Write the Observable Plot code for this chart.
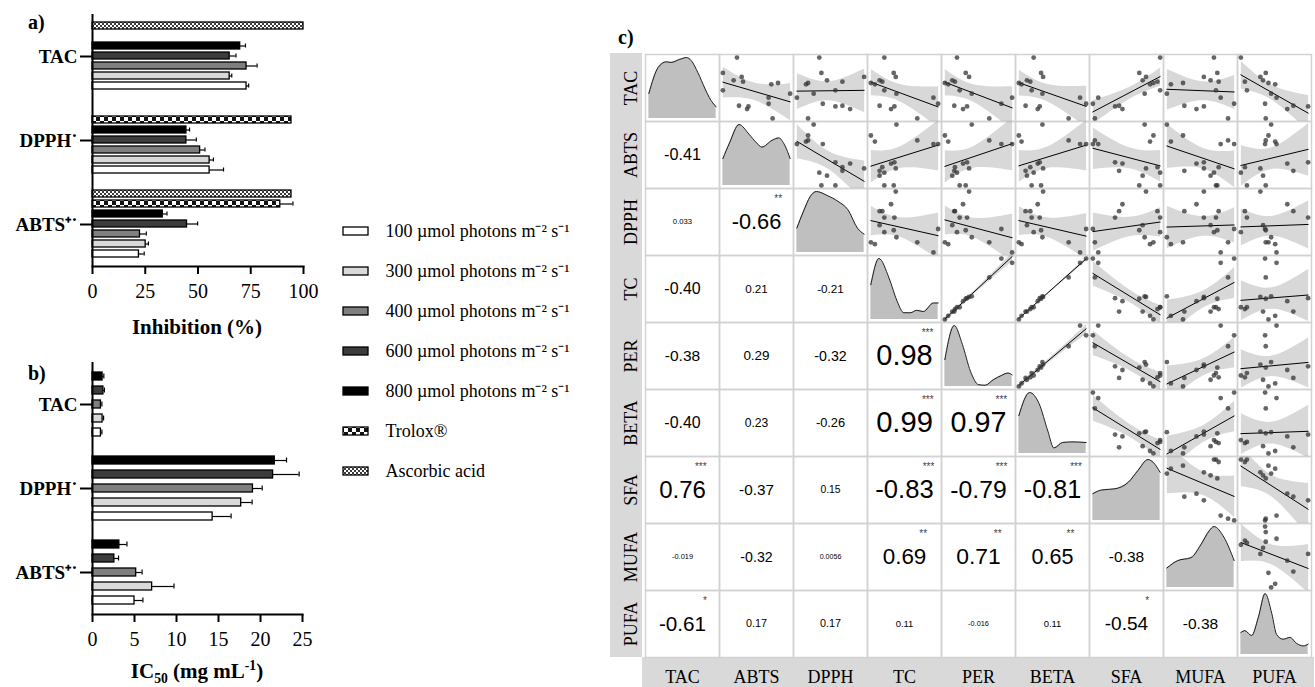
<!DOCTYPE html>
<html><head><meta charset="utf-8">
<script src="https://cdn.jsdelivr.net/npm/d3@7"></script>
<script src="https://cdn.jsdelivr.net/npm/@observablehq/plot@0.6"></script>
<style>
body{margin:0;background:#fff;width:1315px;height:687px;position:relative;overflow:hidden;font-family:"Liberation Serif","Times New Roman",serif;color:#000;}
.abs{position:absolute;}
.lab{font-weight:bold;font-size:20px;line-height:24px;}
.axl{font-weight:bold;font-size:21px;line-height:24px;text-align:center;width:300px;left:47px;}
.axl sub,.axl sup{font-size:0.65em;line-height:0;}
</style></head><body>
<svg width="0" height="0" style="position:absolute">
<defs>
<pattern id="ascorbic" width="4" height="4" patternUnits="userSpaceOnUse"><rect width="4" height="4" fill="#fff"/><rect width="2" height="2" fill="#3a3a3a"/><rect x="2" y="2" width="2" height="2" fill="#3a3a3a"/></pattern>
<pattern id="trolox" width="8" height="8" patternUnits="userSpaceOnUse"><rect width="8" height="8" fill="#fff"/><rect width="4" height="4" fill="#111"/><rect x="4" y="4" width="4" height="4" fill="#111"/></pattern>
</defs></svg>
<div class="abs lab" style="left:28px;top:10px">a)</div>
<div class="abs lab" style="left:28px;top:361px">b)</div>
<div class="abs lab" style="left:618px;top:25px">c)</div>
<div class="abs axl" style="top:315px">Inhibition (%)</div>
<div class="abs axl" style="top:659px">IC<sub>50</sub> (mg mL<sup>-1</sup>)</div>
<div id="pa" class="abs" style="left:0;top:0"></div>
<div id="pb" class="abs" style="left:0;top:340px"></div>
<div id="leg" class="abs" style="left:320px;top:200px"></div>
<div id="pc" class="abs" style="left:580px;top:0"></div>
<script>
const serif = "'Liberation Serif','Times New Roman',serif";
const sans = "'Liberation Sans',Arial,sans-serif";

// ---------- Panels a & b data ----------
const assays = ["TAC", "DPPH", "ABTS"];
const assayLabels = ["TAC", "DPPH\u02D9", "ABTS\u207A\u02D9"];
const fillKeys = ["100", "300", "400", "600", "800", "Trolox", "Ascorbic"];
const fillColors = ["#ffffff", "#d9d9d9", "#7f7f7f", "#3c3c3c", "#000000", "url(#trolox)", "url(#ascorbic)"];
const legendLabels = ["100 µmol photons m\u207B\u00B2 s\u207B\u00B9", "300 µmol photons m\u207B\u00B2 s\u207B\u00B9",
  "400 µmol photons m\u207B\u00B2 s\u207B\u00B9", "600 µmol photons m\u207B\u00B2 s\u207B\u00B9",
  "800 µmol photons m\u207B\u00B2 s\u207B\u00B9", "Trolox\u00AE", "Ascorbic acid"];

// Inhibition (%) : order Ascorbic, Trolox, 800, 600, 400, 300, 100
const inhibKeys = ["Ascorbic", "Trolox", "800", "600", "400", "300", "100"];
const inhibTAC = [100, null, 70, 65, 73, 65, 73];
const inhibTACsd = [0, null, 2.5, 3, 5, 1, 1];
const inhibDPPH = [null, 94.3, 44.5, 44.5, 51, 55.5, 55.5];
const inhibDPPHsd = [null, 0, 1.5, 4.7, 2.3, 1.8, 6.6];
const inhibABTS = [94.3, 89, 33.3, 44.8, 22.5, 25.2, 22];
const inhibABTSsd = [0, 6, 2, 5, 3, 1.3, 2.5];

// IC50 (mg/mL) : order 800, 600, 400, 300, 100
const icKeys = ["800", "600", "400", "300", "100"];
const icTAC = [1.2, 1.3, 1.0, 1.2, 1.0];
const icTACsd = [0.15, 0.12, 0.12, 0.12, 0.12];
const icDPPH = [21.7, 21.5, 19.1, 17.7, 14.3];
const icDPPHsd = [1.4, 3.1, 1.1, 1.3, 2.2];
const icABTS = [3.2, 2.6, 5.2, 7.1, 5.0];
const icABTSsd = [0.9, 0.5, 0.7, 2.6, 1.0];

function rows(keys, series) {
  const out = [];
  series.forEach(([assay, vals, sds]) => keys.forEach((k, i) => {
    if (vals[i] != null) out.push({assay, key: k, v: vals[i], sd: sds[i], hi: vals[i] + sds[i]});
  }));
  return out;
}
const rowsA = rows(inhibKeys, [["TAC", inhibTAC, inhibTACsd], ["DPPH", inhibDPPH, inhibDPPHsd], ["ABTS", inhibABTS, inhibABTSsd]]);
const rowsB = rows(icKeys, [["TAC", icTAC, icTACsd], ["DPPH", icDPPH, icDPPHsd], ["ABTS", icABTS, icABTSsd]]);

function barPanel(data, keys, xdom, ticks, opts) {
  const err = data.filter(d => d.sd > 0);
  return Plot.plot({
    width: 320, height: opts.height,
    marginLeft: 92, marginRight: opts.marginRight, marginTop: opts.marginTop, marginBottom: opts.marginBottom,
    style: {fontFamily: serif, background: "transparent", overflow: "visible"},
    x: {domain: xdom},
    y: {domain: keys, paddingInner: opts.pi, paddingOuter: opts.po, axis: null},
    fy: {domain: assays, padding: 0},
    color: {type: "ordinal", domain: fillKeys, range: fillColors},
    marks: [
      Plot.barX(data, {fy: "assay", y: "key", x: "v", fill: "key", stroke: "black", strokeWidth: 1.3}),
      Plot.ruleY(err, {fy: "assay", y: "key", x1: "v", x2: "hi", stroke: "black", strokeWidth: 1.2}),
      Plot.tickX(err, {fy: "assay", y: "key", x: "hi", stroke: "black", strokeWidth: 1.2, insetTop: 1.5, insetBottom: 1.5}),
      Plot.ruleX([0], {stroke: "black", strokeWidth: 2}),
      Plot.frame({anchor: "bottom", facetAnchor: "bottom", stroke: "black", strokeWidth: 2}),
      Plot.axisX({ticks, tickSize: 8, strokeWidth: 2, tickPadding: 9, fontSize: 20, label: null}),
      Plot.axisFy({anchor: "left", tickSize: 12, strokeWidth: 2, tickPadding: 3, fontSize: 19, fontWeight: "bold",
        tickFormat: d => assayLabels[assays.indexOf(d)], label: null})
    ]
  });
}
document.getElementById("pa").append(barPanel(rowsA, inhibKeys, [0, 100], [0, 25, 50, 75, 100],
  {height: 340, marginRight: 17, marginTop: 13, marginBottom: 74, pi: 0.27, po: 0.5}));
document.getElementById("pb").append(barPanel(rowsB, icKeys, [0, 25], [0, 5, 10, 15, 20, 25],
  {height: 347, marginRight: 18, marginTop: 22, marginBottom: 73, pi: 0.43, po: 0.56}));

// ---------- Legend ----------
const legendRows = fillKeys.map((k, i) => ({key: k, label: legendLabels[i]}));
document.getElementById("leg").append(Plot.plot({
  width: 280, height: 290, marginLeft: 23, marginRight: 232, marginTop: 24, marginBottom: 12,
  style: {fontFamily: serif, background: "transparent", overflow: "visible"},
  x: {domain: [0, 1], axis: null},
  y: {domain: fillKeys, paddingInner: 0.8, paddingOuter: 0, axis: null},
  color: {type: "ordinal", domain: fillKeys, range: fillColors},
  marks: [
    Plot.barX(legendRows, {y: "key", x1: 0, x2: 1, fill: "key", stroke: "black", strokeWidth: 1.3}),
    Plot.text(legendRows, {y: "key", x: 1, dx: 17, text: "label", textAnchor: "start", fontSize: 18, fill: "black"})
  ]
}));

// ---------- Panel c data (relative values, 15 samples) ----------
const vars = ["TAC", "ABTS", "DPPH", "TC", "PER", "BETA", "SFA", "MUFA", "PUFA"];
const obsTAC  = [100, 62, 60, 66, 64, 77, 71, 51, 46, 28, 23, 27,  9, 40, 31];
const obsABTS = [ 21, 82, 72, 16, 30,  0, 28,  0, 100, 24, 36, 38, 74, 68, 68];
const obsDPPH = [ 36, 20, 17, 47, 69, 39, 100, 59, 28, 69, 80, 59, 20,  4, 41];
const obsTC   = [ 20,  0,  6, 13, 17, 34, 37, 20, 38, 13, 30, 35, 69, 93, 100];
const obsPER  = [ 18,  0,  5, 11, 15, 31, 36, 22, 40, 14, 27, 33, 66, 100, 84];
const obsBETA = [ 22,  0,  4, 12, 17, 33, 36, 19, 35, 10, 28, 31, 74, 91, 100];
const obsSFA  = [100, 90, 85, 74, 96, 69, 79, 100, 77, 39, 44, 33,  3,  8,  0];
const obsMUFA = [ 70, 24,  6, 65, 77, 75, 55, 73,  0, 26, 44, 55, 91, 80, 100];
const obsPUFA = [  0, 41, 51, 33,  6, 37, 29,  9, 45, 78, 69, 100, 37, 53, 36];

// Correlations (lower triangle, row variable vs earlier columns)
const corABTS = [-0.41];
const corDPPH = [0.033, -0.66];
const corTC   = [-0.40, 0.21, -0.21];
const corPER  = [-0.38, 0.29, -0.32, 0.98];
const corBETA = [-0.40, 0.23, -0.26, 0.99, 0.97];
const corSFA  = [0.76, -0.37, 0.15, -0.83, -0.79, -0.81];
const corMUFA = [-0.019, -0.32, 0.0056, 0.69, 0.71, 0.65, -0.38];
const corPUFA = [-0.61, 0.17, 0.17, 0.11, -0.016, 0.11, -0.54, -0.38];
const sigABTS = [""];
const sigDPPH = ["", "**"];
const sigTC   = ["", "", ""];
const sigPER  = ["", "", "", "***"];
const sigBETA = ["", "", "", "***", "***"];
const sigSFA  = ["***", "", "", "***", "***", "***"];
const sigMUFA = ["", "", "", "**", "**", "**", ""];
const sigPUFA = ["*", "", "", "", "", "", "*", ""];

// Density curves (relative position, relative height)
const densTAC  = [[0,.41],[.14,.84],[.26,.93],[.33,.92],[.46,.97],[.56,1],[.63,.95],[.73,.75],[.83,.5],[.9,.34],[1,.19]];
const densABTS = [[0,.44],[.1,.7],[.24,1],[.39,.84],[.5,.7],[.58,.63],[.73,.74],[.83,.78],[.92,.66],[1,.44]];
const densDPPH = [[0,.4],[.1,.68],[.2,.92],[.29,1],[.46,.93],[.61,.84],[.76,.7],[.9,.4],[1,.3]];
const densTC   = [[0,.57],[.12,1],[.27,.68],[.39,.3],[.49,.11],[.59,.11],[.68,.15],[.78,.13],[.93,.27],[1,.27]];
const densPER  = [[0,.44],[.14,1],[.26,.69],[.38,.25],[.5,.03],[.6,.02],[.72,.11],[.84,.18],[.94,.22],[1,.19]];
const densBETA = [[0,.62],[.16,1],[.3,.82],[.43,.37],[.52,.09],[.65,.18],[.79,.19],[1,.18]];
const densSFA  = [[0,.44],[.13,.5],[.33,.52],[.53,.63],[.67,.82],[.82,1],[.9,.95],[1,.79]];
const densMUFA = [[0,.32],[.16,.44],[.36,.49],[.51,.71],[.63,.93],[.7,1],[.85,.82],[1,.44]];
const densPUFA = [[0,.36],[.06,.39],[.16,.31],[.26,.61],[.36,1],[.46,.67],[.53,.33],[.63,.25],[.73,.28],[.83,.18],[.93,.14],[1,.17]];

const obs = {TAC: obsTAC, ABTS: obsABTS, DPPH: obsDPPH, TC: obsTC, PER: obsPER, BETA: obsBETA, SFA: obsSFA, MUFA: obsMUFA, PUFA: obsPUFA};
const cors = {ABTS: corABTS, DPPH: corDPPH, TC: corTC, PER: corPER, BETA: corBETA, SFA: corSFA, MUFA: corMUFA, PUFA: corPUFA};
const sigs = {ABTS: sigABTS, DPPH: sigDPPH, TC: sigTC, PER: sigPER, BETA: sigBETA, SFA: sigSFA, MUFA: sigMUFA, PUFA: sigPUFA};
const dens = {TAC: densTAC, ABTS: densABTS, DPPH: densDPPH, TC: densTC, PER: densPER, BETA: densBETA, SFA: densSFA, MUFA: densMUFA, PUFA: densPUFA};

const norm = {};
for (const v of vars) {
  const [lo, hi] = d3.extent(obs[v]);
  norm[v] = obs[v].map(x => (x - lo) / (hi - lo));
}
const pairs = [];
vars.forEach((rv, i) => vars.forEach((cv, j) => {
  if (j > i) norm[cv].forEach((x, k) => pairs.push({fx: cv, fy: rv, x, y: norm[rv][k]}));
}));
const densRows = [];
vars.forEach(v => dens[v].forEach(([x, y]) => densRows.push({v, x, y})));

const fmt = d3.formatLocale({decimal: ".", thousands: ",", grouping: [3], currency: ["", ""], minus: "-"}).format(".2r");
const cw = {"0":.556,"1":.556,"2":.556,"3":.556,"4":.556,"5":.556,"6":.556,"7":.556,"8":.556,"9":.556,".":.278,"-":.333};
const cellW = (735 - 62 - 1) / 9;
const pxPerUnit = cellW / 1.1;
const corRows = [];
vars.forEach((rv, i) => vars.forEach((cv, j) => {
  if (j < i) {
    const r = cors[rv][j];
    const label = fmt(r);
    const fs = 7 + 22.4 * Math.abs(r);
    const w = fs * [...label].reduce((s, c) => s + (cw[c] || .556), 0);
    corRows.push({fx: cv, fy: rv, label, fs, stars: sigs[rv][j], sx: 0.5 + (w / 2 + 1) / pxPerUnit});
  }
}));

const pc = Plot.plot({
  width: 735, height: 687,
  marginLeft: 62, marginRight: 1, marginTop: 53, marginBottom: 30,
  style: {fontFamily: sans, background: "transparent", overflow: "visible"},
  x: {domain: [-0.05, 1.05], axis: null},
  y: {domain: [-0.05, 1.05], axis: null},
  fx: {domain: vars, padding: 0},
  fy: {domain: vars, padding: 0},
  marks: [
    Plot.frame({stroke: "#d2d2d2", strokeWidth: 1.5}),
    Plot.areaY(densRows, {fx: "v", fy: "v", x: "x", y: "y", fill: "#bfbfbf", curve: "monotone-x"}),
    Plot.lineY(densRows, {fx: "v", fy: "v", x: "x", y: "y", stroke: "#1a1a1a", strokeWidth: 1, curve: "monotone-x"}),
    Plot.linearRegressionY(pairs, {fx: "fx", fy: "fy", x: "x", y: "y", stroke: "#000", strokeWidth: 1, fill: "#9e9e9e", fillOpacity: 0.4, clip: true}),
    Plot.dot(pairs, {fx: "fx", fy: "fy", x: "x", y: "y", r: 2.4, fill: "#333", fillOpacity: 0.75, stroke: "none"}),
    Plot.text(corRows, {fx: "fx", fy: "fy", text: "label", frameAnchor: "middle", fontSize: d => d.fs, fill: "#000"}),
    Plot.text(corRows.filter(d => d.stars), {fx: "fx", fy: "fy", x: "sx", text: "stars", textAnchor: "end", dy: -23, fontSize: 10, fill: "#444"}),
    Plot.axisFy({anchor: "left", tickSize: 0, tickRotate: -90, tickPadding: 9, fontSize: 18, fontFamily: serif, label: null}),
    Plot.axisFx({anchor: "bottom", tickSize: 0, tickPadding: 13, fontSize: 18, fontFamily: serif, label: null})
  ]
});
const ns = "http://www.w3.org/2000/svg";
function addStrip(svg, x, y, w, h) {
  const r = document.createElementNS(ns, "rect");
  r.setAttribute("x", x); r.setAttribute("y", y); r.setAttribute("width", w); r.setAttribute("height", h);
  r.setAttribute("fill", "#d9d9d9");
  const st = svg.querySelector("style");
  svg.insertBefore(r, st ? st.nextSibling : svg.firstChild);
}
addStrip(pc, 30, 53, 32, 604);
addStrip(pc, 62, 657, 672, 30);
document.getElementById("pc").append(pc);
</script>
</body></html>
